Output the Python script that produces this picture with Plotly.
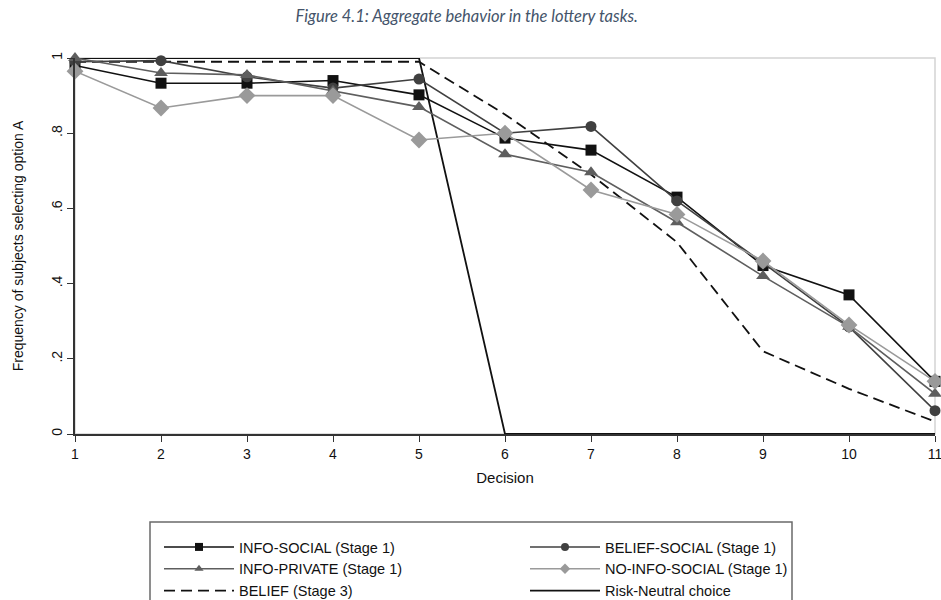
import plotly.graph_objects as go

decisions = [1, 2, 3, 4, 5, 6, 7, 8, 9, 10, 11]
info_social = [0.98, 0.933, 0.933, 0.94, 0.902, 0.787, 0.755, 0.63, 0.448, 0.37, 0.14]
belief_social = [0.99, 0.993, 0.95, 0.92, 0.944, 0.80, 0.818, 0.62, 0.455, 0.285, 0.062]
info_private = [1.0, 0.96, 0.955, 0.913, 0.87, 0.744, 0.696, 0.563, 0.42, 0.285, 0.107]
no_info_social = [0.965, 0.867, 0.90, 0.90, 0.782, 0.80, 0.649, 0.584, 0.46, 0.29, 0.14]
belief_stage3 = [0.99, 0.99, 0.99, 0.99, 0.99, 0.85, 0.69, 0.51, 0.22, 0.12, 0.033]
risk_neutral = [1, 1, 1, 1, 1, 0, 0, 0, 0, 0, 0]

y_ticks = [0, 0.2, 0.4, 0.6, 0.8, 1]
y_tick_labels = ["0", ".2", ".4", ".6", ".8", "1"]

# plot area in pixels
L, R, T, B = 75, 935, 58, 434
W, H = 941, 600
PW, PH = R - L, B - T


def px_x(p):
    return (p - L) / PW


def px_y(p):
    return (B - p) / PH


fig = go.Figure()

series = [
    ("INFO-SOCIAL (Stage 1)", info_social, "#111111", "square", 11, "legend"),
    ("BELIEF-SOCIAL (Stage 1)", belief_social, "#404040", "circle", 11, "legend2"),
    ("INFO-PRIVATE (Stage 1)", info_private, "#5e5e5e", "triangle-up", 12, "legend"),
    ("NO-INFO-SOCIAL (Stage 1)", no_info_social, "#9a9a9a", "diamond", 13, "legend2"),
]

fig.add_trace(go.Scatter(
    x=decisions, y=belief_stage3, name="BELIEF (Stage 3)", mode="lines",
    line=dict(color="#111111", width=1.8, dash="11px,6px"), cliponaxis=False,
    legend="legend", legendrank=3,
))
fig.add_trace(go.Scatter(
    x=decisions, y=risk_neutral, name="Risk-Neutral choice", mode="lines",
    line=dict(color="#111111", width=1.8), cliponaxis=False,
    legend="legend2", legendrank=3,
))

for rank, (name, y, color, symbol, size, leg) in enumerate(series):
    fig.add_trace(go.Scatter(
        x=decisions, y=y, name=name, mode="lines+markers",
        line=dict(color=color, width=1.6),
        marker=dict(symbol=symbol, size=size, color=color),
        cliponaxis=False, showlegend=False,
    ))
    fig.add_trace(go.Scatter(
        x=[None], y=[None], name=name, mode="lines+markers",
        line=dict(color=color, width=1.6),
        marker=dict(symbol=symbol, size=8, color=color),
        legend=leg, legendrank=1 if rank < 2 else 2,
    ))

# light plot-region border
fig.add_shape(type="rect", xref="paper", yref="paper", x0=0, x1=1, y0=0, y1=1,
              line=dict(color="#d4d4d4", width=1.5), layer="below")
# legend box
fig.add_shape(type="rect", xref="paper", yref="paper",
              x0=px_x(150), x1=px_x(792), y0=px_y(640), y1=px_y(522),
              line=dict(color="#6a6a6a", width=1.5), fillcolor="white", layer="below")

legend_common = dict(
    orientation="v", yanchor="top", xanchor="left",
    itemwidth=70, bgcolor="rgba(0,0,0,0)", borderwidth=0,
    font=dict(size=14.5, family="Liberation Sans, Arial, sans-serif", color="#111111"),
    tracegroupgap=0, traceorder="normal",
)

fig.update_layout(
    width=W, height=H,
    margin=dict(l=L, r=W - R, t=T, b=H - B, autoexpand=False),
    paper_bgcolor="white", plot_bgcolor="white",
    font=dict(family="Liberation Sans, Arial, sans-serif", color="#111111", size=14),
    title=dict(
        text="<i>Figure 4.1: Aggregate behavior in the lottery tasks.</i>",
        x=0.496, xref="container", xanchor="center", y=1 - 16 / H, yanchor="middle",
        font=dict(family="Lato, Open Sans, sans-serif", size=16.5, color="#44546A"),
    ),
    showlegend=True,
    legend=dict(x=px_x(159), y=px_y(531), **legend_common),
    legend2=dict(x=px_x(525), y=px_y(531), **legend_common),
    xaxis=dict(
        range=[1, 11], tickvals=decisions, ticks="outside", ticklen=6,
        tickcolor="#333333", showline=True, linecolor="#333333", linewidth=1.5,
        showgrid=False, zeroline=False, ticklabeloverflow="allow",
        title=dict(text="Decision", font=dict(size=15), standoff=12),
        tickfont=dict(size=14),
    ),
    yaxis=dict(
        range=[0, 1], tickvals=y_ticks, ticktext=y_tick_labels, tickangle=-90,
        ticks="outside", ticklen=6, tickcolor="#333333",
        showline=True, linecolor="#333333", linewidth=1.5,
        showgrid=False, zeroline=False, ticklabeloverflow="allow",
        title=dict(text="Frequency of subjects selecting option A", font=dict(size=14), standoff=22),
        tickfont=dict(size=14),
    ),
)

fig.write_html(
    "out.html",
    config={"displayModeBar": False},
    post_script="document.body.style.margin='0';document.body.style.overflow='hidden';",
)
